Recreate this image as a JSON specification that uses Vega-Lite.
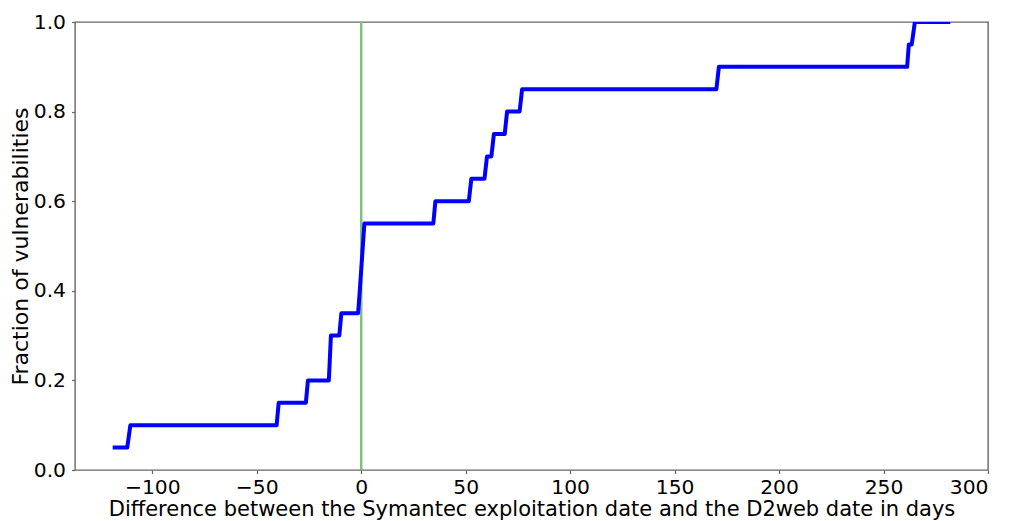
{
  "$schema": "https://vega.github.io/schema/vega-lite/v6.json",
  "width": 913,
  "height": 448,
  "autosize": {"type": "none"},
  "padding": {"left": 75, "top": 22, "right": 22, "bottom": 51},
  "background": "white",
  "config": {
    "font": "DejaVu Sans",
    "view": {"stroke": "#666", "strokeWidth": 1.4},
    "axis": {
      "domain": false,
      "grid": false,
      "labelFont": "DejaVu Sans",
      "titleFont": "DejaVu Sans",
      "labelFontSize": 20.3,
      "titleFontSize": 21,
      "titleFontWeight": "normal",
      "labelColor": "#000",
      "titleColor": "#000",
      "tickColor": "#666",
      "tickSize": 3.5,
      "tickWidth": 1.2,
      "labelPadding": 3.5
    }
  },
  "layer": [
    {
      "data": {"values": [{"x": 0}]},
      "mark": {"type": "rule", "color": "#7fbf7f", "strokeWidth": 2.5},
      "encoding": {
        "x": {"field": "x", "type": "quantitative", "scale": {"domain": [-137, 300], "nice": false, "zero": false}}
      }
    },
    {
      "data": {
        "values": [
          {"i": 0, "days": -118, "frac": 0.05},
          {"i": 1, "days": -112, "frac": 0.05},
          {"i": 2, "days": -110.5, "frac": 0.10},
          {"i": 3, "days": -40.5, "frac": 0.10},
          {"i": 4, "days": -39.5, "frac": 0.15},
          {"i": 5, "days": -26.5, "frac": 0.15},
          {"i": 6, "days": -25.5, "frac": 0.20},
          {"i": 7, "days": -15.5, "frac": 0.20},
          {"i": 8, "days": -14.5, "frac": 0.30},
          {"i": 9, "days": -10.5, "frac": 0.30},
          {"i": 10, "days": -9.5, "frac": 0.35},
          {"i": 11, "days": -1.5, "frac": 0.35},
          {"i": 12, "days": -0.7, "frac": 0.40},
          {"i": 13, "days": 1.5, "frac": 0.55},
          {"i": 14, "days": 34.5, "frac": 0.55},
          {"i": 15, "days": 35.5, "frac": 0.60},
          {"i": 16, "days": 51.5, "frac": 0.60},
          {"i": 17, "days": 52.7, "frac": 0.65},
          {"i": 18, "days": 59, "frac": 0.65},
          {"i": 19, "days": 60.2, "frac": 0.70},
          {"i": 20, "days": 62.3, "frac": 0.70},
          {"i": 21, "days": 63.5, "frac": 0.75},
          {"i": 22, "days": 68.7, "frac": 0.75},
          {"i": 23, "days": 69.8, "frac": 0.80},
          {"i": 24, "days": 75.8, "frac": 0.80},
          {"i": 25, "days": 77, "frac": 0.85},
          {"i": 26, "days": 170, "frac": 0.85},
          {"i": 27, "days": 171.2, "frac": 0.90},
          {"i": 28, "days": 261.3, "frac": 0.90},
          {"i": 29, "days": 262.1, "frac": 0.95},
          {"i": 30, "days": 263.5, "frac": 0.95},
          {"i": 31, "days": 265, "frac": 1.0},
          {"i": 32, "days": 281, "frac": 1.0}
        ]
      },
      "mark": {"type": "line", "color": "#0000ff", "strokeWidth": 4, "strokeJoin": "round", "strokeCap": "square", "clip": true},
      "encoding": {
        "x": {
          "field": "days",
          "type": "quantitative",
          "scale": {"domain": [-137, 300], "nice": false, "zero": false},
          "axis": {
            "values": [-100, -50, 0, 50, 100, 150, 200, 250, 300],
            "format": "d",
            "title": "Difference between the Symantec exploitation date and the D2web date in days",
            "titlePadding": 1.5
          }
        },
        "y": {
          "field": "frac",
          "type": "quantitative",
          "scale": {"domain": [0, 1], "nice": false},
          "axis": {
            "values": [0, 0.2, 0.4, 0.6, 0.8, 1.0],
            "format": ".1f",
            "title": "Fraction of vulnerabilities",
            "titleFontSize": 22,
            "labelPadding": 6,
            "titlePadding": 1
          }
        },
        "order": {"field": "i", "type": "quantitative"}
      }
    }
  ]
}
